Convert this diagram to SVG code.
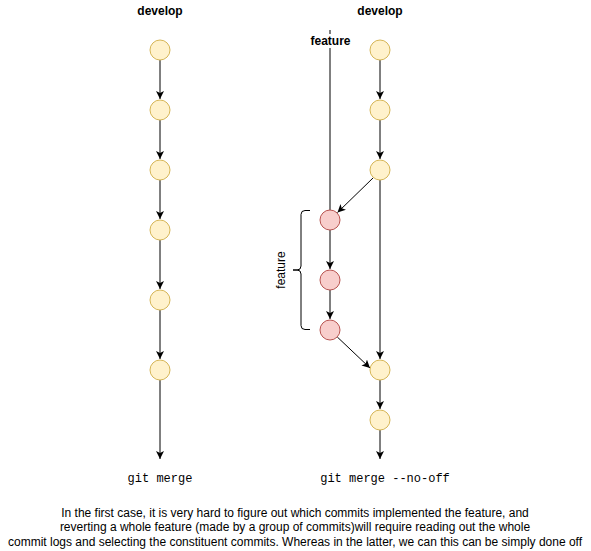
<svg xmlns="http://www.w3.org/2000/svg" width="591" height="551" viewBox="0 0 591 551">
<style>
.y{fill:#fff2cc;stroke:#d6b656;stroke-width:1}
.r{fill:#f8cecc;stroke:#b85450;stroke-width:1}
.e{fill:none;stroke:#000;stroke-width:1}
.t{font-family:"Liberation Sans",Arial,sans-serif;font-size:12px;fill:#000}
.b{font-weight:bold}
.m{font-family:"Liberation Mono","Courier New",monospace;font-size:12px;fill:#000}
</style>
<defs>
<marker id="a" markerWidth="10" markerHeight="10" refX="8" refY="4" orient="auto" markerUnits="userSpaceOnUse">
<path d="M0,0 L8,4 L0,8 L2,4 Z" fill="#000"/>
</marker>
</defs>
<rect width="591" height="551" fill="#fff"/>
<g id="connectors">
<line class="e" x1="160" y1="60" x2="160" y2="99" marker-end="url(#a)"/>
<line class="e" x1="160" y1="120" x2="160" y2="159" marker-end="url(#a)"/>
<line class="e" x1="160" y1="180" x2="160" y2="219" marker-end="url(#a)"/>
<line class="e" x1="160" y1="240" x2="160" y2="289" marker-end="url(#a)"/>
<line class="e" x1="160" y1="310" x2="160" y2="359" marker-end="url(#a)"/>
<line class="e" x1="160" y1="380" x2="160" y2="459" marker-end="url(#a)"/>
<line class="e" x1="380" y1="60" x2="380" y2="99" marker-end="url(#a)"/>
<line class="e" x1="380" y1="120" x2="380" y2="159" marker-end="url(#a)"/>
<line class="e" x1="380" y1="180" x2="380" y2="359" marker-end="url(#a)"/>
<line class="e" x1="380" y1="380" x2="380" y2="409" marker-end="url(#a)"/>
<line class="e" x1="380" y1="430" x2="380" y2="459" marker-end="url(#a)"/>
<line class="e" x1="373.5" y1="177.5" x2="337.5" y2="212.5" marker-end="url(#a)"/>
<line class="e" x1="330" y1="230" x2="330" y2="269" marker-end="url(#a)"/>
<line class="e" x1="330" y1="290" x2="330" y2="319" marker-end="url(#a)"/>
<line class="e" x1="337.3" y1="337" x2="370" y2="368" marker-end="url(#a)"/>
<line class="e" x1="330" y1="30" x2="330" y2="210"/>
</g>
<g id="feature-label">
<rect x="310" y="34" width="42" height="14" fill="#fff"/>
<text class="t b" x="330.5" y="45" text-anchor="middle">feature</text>
</g>
<g id="develop-left"><text class="t b" x="160" y="15" text-anchor="middle">develop</text></g>
<g id="develop-right"><text class="t b" x="380" y="15" text-anchor="middle">develop</text></g>
<g id="l1"><circle class="y" cx="160" cy="50" r="10"/></g>
<g id="l2"><circle class="y" cx="160" cy="110" r="10"/></g>
<g id="l3"><circle class="y" cx="160" cy="170" r="10"/></g>
<g id="l4"><circle class="y" cx="160" cy="230" r="10"/></g>
<g id="l5"><circle class="y" cx="160" cy="300" r="10"/></g>
<g id="l6"><circle class="y" cx="160" cy="370" r="10"/></g>
<g id="r1"><circle class="y" cx="380" cy="50" r="10"/></g>
<g id="r2"><circle class="y" cx="380" cy="110" r="10"/></g>
<g id="r3"><circle class="y" cx="380" cy="170" r="10"/></g>
<g id="r4"><circle class="y" cx="380" cy="370" r="10"/></g>
<g id="r5"><circle class="y" cx="380" cy="420" r="10"/></g>
<g id="f1"><circle class="r" cx="330" cy="220" r="10"/></g>
<g id="f2"><circle class="r" cx="330" cy="280" r="10"/></g>
<g id="f3"><circle class="r" cx="330" cy="330" r="10"/></g>
<g id="brace">
<path class="e" d="M310,210.5 L305,210.5 Q301,210.5 301,214.5 L301,266 Q301,270 297,270 L293,270 L297,270 Q301,270 301,274 L301,325.5 Q301,329.5 305,329.5 L310,329.5"/>
<text class="t" transform="translate(285,270) rotate(-90)" text-anchor="middle">feature</text>
</g>
<g id="label-git-merge"><text class="m" x="160" y="482" text-anchor="middle">git merge</text></g>
<g id="label-no-off"><text class="m" x="385" y="482" text-anchor="middle">git merge --no-off</text></g>
<g id="caption">
<text class="t" x="295" y="517" text-anchor="middle">In the first case, it is very hard to figure out which commits implemented the feature, and</text>
<text class="t" x="295" y="531" text-anchor="middle">reverting a whole feature (made by a group of commits)will require reading out the whole</text>
<text class="t" x="295" y="546" text-anchor="middle">commit logs and selecting the constituent commits. Whereas in the latter, we can this can be simply done off</text>
</g>
</svg>
